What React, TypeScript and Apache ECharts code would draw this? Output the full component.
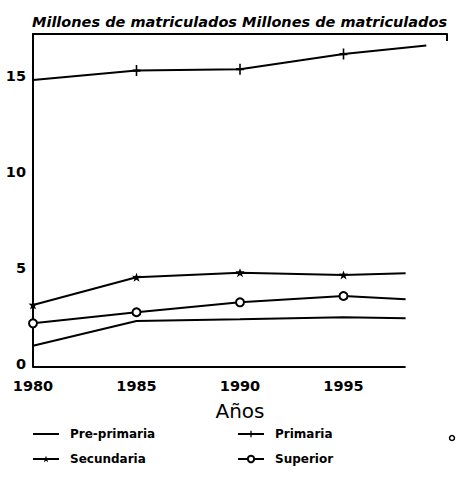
import React, { useEffect, useRef } from "react";
import * as echarts from "echarts";

const titleText = "Millones de matriculados Millones de matriculados";
const xAxisName = "Años";
const seriesNames = ["Pre-primaria", "Primaria", "Secundaria", "Superior"];
const yearsPrimaria = [1980, 1985, 1990, 1995, 1999];
const yearsOther = [1980, 1985, 1990, 1995, 1998];
const prePrimaria = [1.11, 2.4, 2.49, 2.6, 2.55];
const primaria = [15.0, 15.49, 15.56, 16.35, 16.8];
const secundaria = [3.24, 4.69, 4.93, 4.81, 4.9];
const superior = [2.28, 2.86, 3.38, 3.71, 3.54];
const yTicks = [0, 5, 10, 15];
const xTicks = [1980, 1985, 1990, 1995];

const FONT = "DejaVu Sans";
const plusPath = "path://M4,0H6V4H10V6H6V10H4V6H0V4H4Z";
const starPath =
  "path://M5,0L6.3,3.2L10,3.1L7.1,5.4L8.3,9L5,6.9L1.7,9L2.9,5.4L0,3.1L3.7,3.2Z";

function buildData(xs: number[], ys: number[], markerIdx: number[]) {
  return xs.map((x, i) =>
    markerIdx.indexOf(i) >= 0 ? { value: [x, ys[i]] } : { value: [x, ys[i]], symbol: "none" }
  );
}

export default function App() {
  const ref = useRef<HTMLDivElement>(null);
  useEffect(() => {
    if (!ref.current) return;
    const chart = echarts.init(ref.current, undefined, { renderer: "svg" });
    const lineStyle = { color: "#000", width: 2 };
    const legendBase = {
      itemWidth: 26,
      itemHeight: 8,
      itemGap: 10,
      padding: 0,
      textStyle: { fontFamily: FONT, fontWeight: "bold", fontSize: 12, color: "#000", padding: [0, 0, 0, 6] },
      inactiveColor: "#000",
      selectedMode: false,
    };
    chart.setOption({
      animation: false,
      backgroundColor: "#fff",
      title: {
        text: titleText,
        left: 32,
        top: 14,
        padding: 0,
        textStyle: { fontFamily: FONT, fontWeight: "bold", fontStyle: "italic", fontSize: 14.5, color: "#000" },
      },
      grid: { left: 33, right: 9, top: 34, bottom: 124, containLabel: false },
      xAxis: [
        {
          type: "value",
          min: 1980,
          max: 2000,
          interval: 5,
          name: xAxisName,
          nameLocation: "middle",
          nameGap: 34,
          nameTextStyle: { fontFamily: FONT, fontSize: 20, color: "#000" },
          axisLine: { show: false },
          axisTick: { show: false },
          splitLine: { show: false },
          axisLabel: {
            margin: 11,
            fontFamily: FONT,
            fontWeight: "bold",
            fontSize: 14.5,
            color: "#000",
            formatter: (v: number) => (xTicks.indexOf(v) >= 0 ? String(v) : ""),
          },
        },
        {
          type: "value",
          position: "top",
          min: 1980,
          max: 2000,
          interval: 20,
          axisLine: { show: true, lineStyle: { color: "#000", width: 2 } },
          axisTick: { show: true, inside: true, length: 7, lineStyle: { color: "#000", width: 2 } },
          axisLabel: { show: false },
          splitLine: { show: false },
        },
      ],
      yAxis: {
        type: "value",
        min: 0,
        max: 17.4,
        interval: 5,
        axisLine: { show: true, lineStyle: { color: "#000", width: 2 } },
        axisTick: { show: false },
        splitLine: { show: false },
        axisLabel: {
          margin: 7,
          fontFamily: FONT,
          fontWeight: "bold",
          fontSize: 14.5,
          color: "#000",
          verticalAlign: "bottom",
          padding: [0, 0, -4, 0],
          formatter: (v: number) => (yTicks.indexOf(v) >= 0 ? String(v) : ""),
        },
      },
      legend: [
        { ...legendBase, data: [{ name: seriesNames[0], itemStyle: { opacity: 0 } }], left: 32, top: 428 },
        { ...legendBase, data: [seriesNames[1]], left: 237, top: 428 },
        { ...legendBase, data: [seriesNames[2]], left: 32, top: 453 },
        { ...legendBase, data: [seriesNames[3]], left: 237, top: 453 },
      ],
      graphic: [
        { type: "circle", shape: { cx: 452, cy: 438, r: 2.5 }, style: { fill: "#fff", stroke: "#000", lineWidth: 1.5 } },
      ],
      series: [
        {
          name: seriesNames[0],
          type: "line",
          symbol: "none",
          lineStyle,
          itemStyle: { color: "#000" },
          data: buildData(yearsOther, prePrimaria, []),
          markLine: {
            silent: true,
            symbol: "none",
            label: { show: false },
            lineStyle: { color: "#000", width: 2, type: "solid" },
            data: [[{ coord: [yearsOther[0], 0] }, { coord: [yearsOther[yearsOther.length - 1], 0] }]],
          },
        },
        {
          name: seriesNames[1],
          type: "line",
          symbol: plusPath,
          symbolSize: [8, 11],
          lineStyle,
          itemStyle: { color: "#000" },
          data: buildData(yearsPrimaria, primaria, [1, 2, 3]),
        },
        {
          name: seriesNames[2],
          type: "line",
          symbol: starPath,
          symbolSize: 9,
          lineStyle,
          itemStyle: { color: "#000" },
          data: buildData(yearsOther, secundaria, [0, 1, 2, 3]),
        },
        {
          name: seriesNames[3],
          type: "line",
          symbol: "circle",
          symbolSize: 8,
          showSymbol: true,
          lineStyle,
          itemStyle: { color: "#fff", borderColor: "#000", borderWidth: 2 },
          data: buildData(yearsOther, superior, [0, 1, 2, 3]),
        },
      ],
    });
    return () => chart.dispose();
  }, []);
  return <div ref={ref} style={{ width: 456, height: 491, position: "absolute", left: 0, top: 0 }} />;
}
